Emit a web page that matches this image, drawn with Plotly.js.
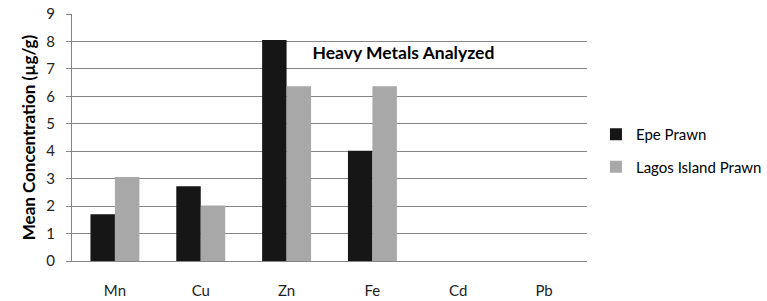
<!DOCTYPE html>
<html>
<head>
<meta charset="utf-8">
<script src="https://cdn.plot.ly/plotly-3.0.1.min.js"></script>
<style>html,body{margin:0;padding:0;background:#fff;}#chart{width:767px;height:301px;}</style>
</head>
<body>
<div id="chart"></div>
<script>
var metals = ["Mn", "Cu", "Zn", "Fe", "Cd", "Pb"];
var epePrawn = [1.70, 2.72, 8.05, 4.02, 0, 0];
var lagosIslandPrawn = [3.06, 2.02, 6.37, 6.37, 0, 0];
var yTicks = [0, 1, 2, 3, 4, 5, 6, 7, 8, 9];

var font = "Lato, 'Open Sans', sans-serif";

var traces = [
  {
    type: "bar", name: "Epe Prawn", x: metals, y: epePrawn,
    legendgroup: "a",
    marker: {color: "#161616", line: {color: "#3a3a3a", width: 0}},
    hoverinfo: "x+y"
  },
  {
    type: "bar", name: "Lagos Island Prawn", x: metals, y: lagosIslandPrawn,
    legendgroup: "b",
    marker: {color: "#a8a8a8", line: {color: "#8c8c8c", width: 0}},
    hoverinfo: "x+y"
  }
];

var layout = {
  width: 767, height: 301,
  margin: {l: 72, r: 180, t: 14, b: 40},
  paper_bgcolor: "#fff", plot_bgcolor: "#fff",
  font: {family: font, size: 14, color: "#222"},
  barmode: "group",
  bargap: 0.43,
  bargroupgap: 0,
  title: {
    text: "<b>Heavy Metals Analyzed</b>",
    x: 0.526, xanchor: "center", y: 0.824, yanchor: "middle",
    font: {family: font, size: 17.5, color: "#000"}
  },
  xaxis: {
    type: "category",
    showgrid: false, showline: true, linecolor: "#868686", linewidth: 1,
    ticks: "", ticklabelstandoff: 16,
    tickfont: {family: font, size: 15, color: "#222"},
    zeroline: false
  },
  yaxis: {
    range: [0, 9], tickvals: yTicks, ticktext: yTicks.map(String),
    showgrid: true, gridcolor: "#868686", gridwidth: 1,
    showline: true, linecolor: "#868686", linewidth: 1,
    ticks: "outside", ticklen: 5, tickcolor: "#868686",
    ticklabelstandoff: 8,
    tickfont: {family: font, size: 15, color: "#222"},
    zeroline: false,
    title: {text: "<b>Mean Concentration (µg/g)</b>", standoff: 6, font: {family: font, size: 17, color: "#000"}}
  },
  legend: {
    xref: "container", yref: "container",
    x: 0.777, xanchor: "left", y: 0.5, yanchor: "middle",
    traceorder: "grouped", tracegroupgap: 10,
    font: {family: font, size: 15, color: "#000"},
    itemwidth: 30
  },
  showlegend: true
};

Plotly.newPlot("chart", traces, layout, {displayModeBar: false, staticPlot: true});
</script>
</body>
</html>
